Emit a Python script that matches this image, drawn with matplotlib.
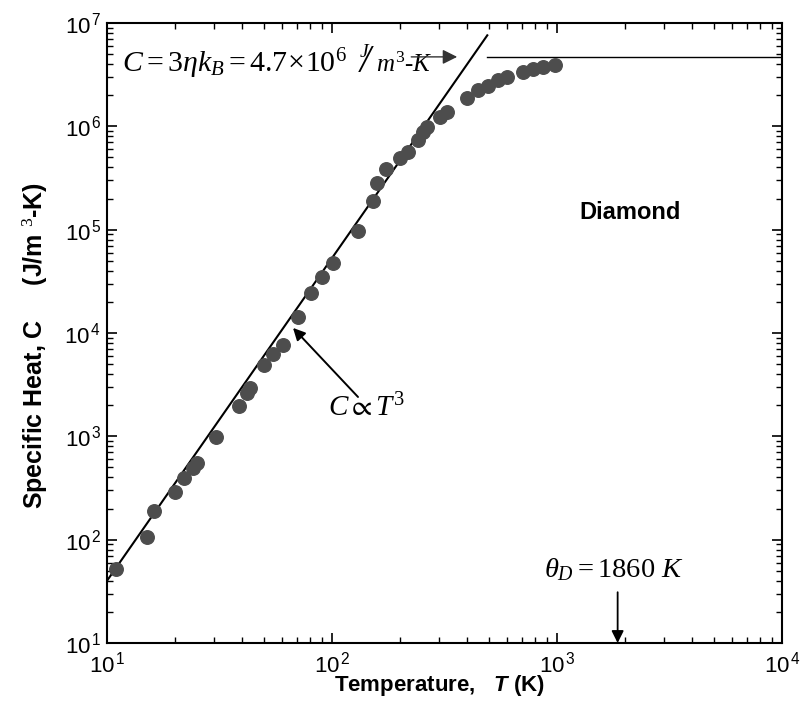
import matplotlib
matplotlib.use("Agg")
import numpy as np
import matplotlib.pyplot as plt
from matplotlib.ticker import LogLocator, NullFormatter, FuncFormatter

plt.rcParams["font.family"] = ["Liberation Sans", "DejaVu Sans"]
plt.rcParams["mathtext.fontset"] = "custom"
plt.rcParams["mathtext.rm"] = "Liberation Serif"
plt.rcParams["mathtext.it"] = "Liberation Serif:italic"
plt.rcParams["mathtext.bf"] = "Liberation Serif:bold"
plt.rcParams["mathtext.bfit"] = "Liberation Sans:bold:italic"
plt.rcParams["mathtext.fallback"] = "stix"

# measured specific heat of diamond
temp_k = [11, 15.1, 16.2, 20, 22, 24.2, 25.2, 30.5, 38.6, 41.8, 43.2, 49.9,
          54.8, 60.8, 70.8, 80.7, 90, 101, 131, 152, 159, 174, 200, 218,
          242, 255, 264, 302, 324, 397, 447, 495, 548, 597, 708, 785, 869, 980]
heat_c = [52, 107, 190, 292, 398, 490, 556, 980, 1950, 2610, 2930, 4900,
          6300, 7700, 14400, 24600, 34700, 48000, 98000, 191000, 286000,
          385000, 490000, 570000, 740000, 890000, 995000, 1.24e6, 1.39e6,
          1.87e6, 2.25e6, 2.47e6, 2.78e6, 3.03e6, 3.39e6, 3.57e6, 3.74e6,
          3.94e6]

# C ~ T^3 guide line and classical limit 3*eta*kB
t3_temp = [10, 490]
t3_heat = [40, 7.6e6]
limit_temp = [490, 1e4]
limit_heat = [4.7e6, 4.7e6]
theta_d = 1860

fig = plt.figure(figsize=(8.09, 7.07), dpi=100)
ax = fig.add_axes([107 / 809, 1 - 643 / 707, 675 / 809, 620 / 707])

ax.plot(t3_temp, t3_heat, color="black", lw=1.5)
ax.plot(limit_temp, limit_heat, color="black", lw=1.0)
ax.scatter(temp_k, heat_c, s=95, color="#4d4d4d", zorder=3)

ax.set_xscale("log")
ax.set_yscale("log")
ax.set_xlim(10, 1e4)
ax.set_ylim(10, 1e7)

pow_fmt = FuncFormatter(lambda v, p: r"$\mathdefault{10^{\,%d}}$" % round(np.log10(v)))
for axis in (ax.xaxis, ax.yaxis):
    axis.set_major_formatter(pow_fmt)
    axis.set_minor_locator(LogLocator(base=10, subs=range(2, 10)))
    axis.set_minor_formatter(NullFormatter())
ax.tick_params(which="both", direction="in", top=True, right=True,
               labelsize=16, color="black")
ax.tick_params(which="major", length=7, width=1.2)
ax.tick_params(which="minor", length=4, width=1.0)
ax.tick_params(axis="x", which="major", pad=6)
ax.tick_params(axis="y", which="major", pad=4)
for sp in ax.spines.values():
    sp.set_linewidth(1.5)

ax.set_xlabel(r"Temperature,   $\mathbfit{T}$ (K)", fontsize=16,
              fontweight="bold")
ax.xaxis.set_label_coords(0.493, -0.048)
ax.set_ylabel(r"Specific Heat, C     (J/m $^{3}$-K)", fontsize=18,
              fontweight="bold")
ax.yaxis.set_label_coords(-0.085, 0.48)

# classical limit label
ax.text(11.66, 3.3e6, r"$C = 3\eta k_B = 4.7\!\times\!10^6$",
        fontsize=21.5, ha="left", va="baseline")
ax.text(140.2, 5.14e6, r"$J$", fontsize=14, ha="center", va="center")
ax.text(140.9, 4.17e6, "/", fontsize=28, ha="center", va="center",
        family="Liberation Serif", style="italic")
ax.text(156.9, 3.37e6, r"$m^{3}\text{-}K$", fontsize=18, ha="left",
        va="baseline")
ax.annotate("", xy=(360, 4.7e6), xytext=(225, 4.7e6),
            arrowprops=dict(arrowstyle="-|>", color="#333333", lw=1.0,
                            mutation_scale=22, shrinkA=0, shrinkB=0))

# T^3 label
ax.annotate("", xy=(67.1, 11200), xytext=(130.5, 2404),
            arrowprops=dict(arrowstyle="-|>", color="black", lw=1.4,
                            mutation_scale=18, shrinkA=0, shrinkB=0))
ax.text(96, 1884, r"$C \propto T^3$", fontsize=21, ha="left", va="center")

ax.text(2110, 1.46e5, "Diamond", fontsize=17, fontweight="bold",
        ha="center", va="center")

# Debye temperature
ax.annotate("", xy=(theta_d, 10), xytext=(theta_d, 31),
            arrowprops=dict(arrowstyle="-|>", color="black", lw=1.3,
                            mutation_scale=18, shrinkA=0, shrinkB=0))
ax.text(1790, 51, r"$\theta_D = 1860\ K$", fontsize=20.5,
        ha="center", va="center")

fig.savefig("out.png", dpi=100)
